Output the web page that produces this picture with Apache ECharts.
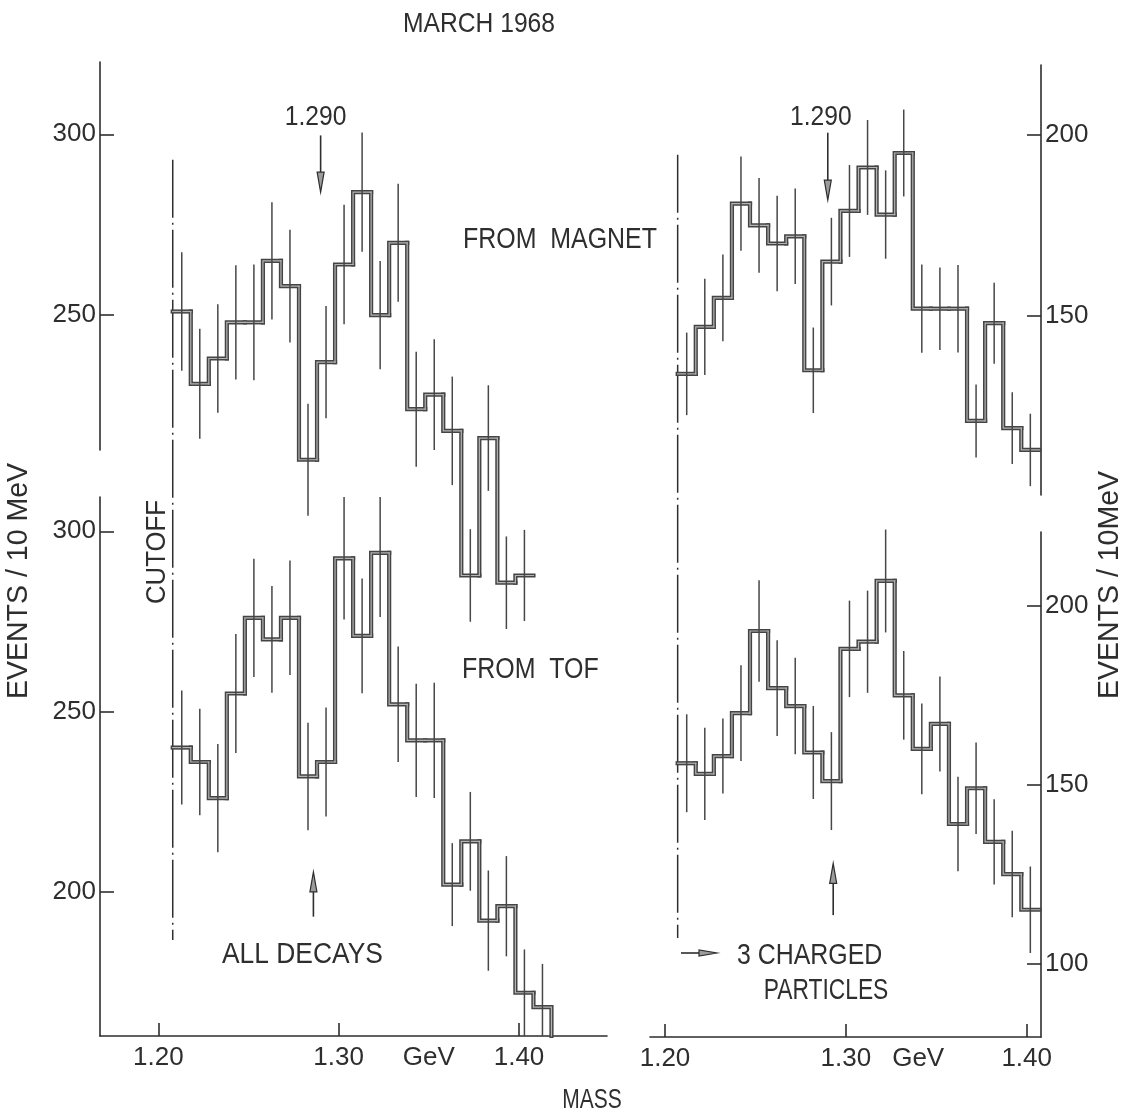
<!DOCTYPE html>
<html><head><meta charset="utf-8">
<script src="https://cdn.jsdelivr.net/npm/echarts@6/dist/echarts.min.js"></script>
<style>html,body{margin:0;padding:0;background:#fff}#c{width:1126px;height:1116px}</style>
</head><body><div id="c"></div>
<script>
// ---------- data ----------
const BIN = 0.01; // GeV, 10 MeV bins
const edgesLeft  = [1.208,1.218,1.228,1.238,1.248,1.258,1.268,1.278,1.288,1.298,1.308,1.318,1.328,1.338,1.348,1.358,1.368,1.378,1.388,1.398,1.408];
const edgesRight = [1.207,1.217,1.227,1.237,1.247,1.257,1.267,1.277,1.287,1.297,1.307,1.317,1.327,1.337,1.347,1.357,1.367,1.377,1.387,1.397];

// ALL DECAYS, from magnet
const magnetAll    = [251,231,238,248,248,265,258,210,237,264,284,250,270,224,228,218,178,216,176,178];
const magnetAllErr = [16.4,15.2,15,15.8,16,16.2,15.6,15.5,15.5,16.5,16.5,15,16.3,15.9,15.3,15,12.8,14.6,12.8,12.6];
// ALL DECAYS, from TOF
const tofAll    = [240,236,226,255,276,270,276,232,236,292.5,271,294,252,242,242,202,214,192,196,172,168];
const tofAllErr = [15.8,14.8,15,16.5,16.4,14.8,15.9,14.9,15.1,17,15.9,17.8,16,15.7,16,11.5,13.7,13.9,13.9,12,12];
// 3 CHARGED PARTICLES, from magnet
const magnet3    = [134,147,155,181,175,170,172,135,165,179,191,178,195,152,152,152,121,148,119,113];
const magnet3Err = [11.4,13.3,12,13,13.1,13.2,13.2,11.8,12.1,12.7,13.1,12.2,12,12.2,11.4,12.1,10.1,11.2,9.9,10];
// 3 CHARGED PARTICLES, from TOF
const tof3    = [156,153,158,170,193,177,172,159,151,188,190,207,175,160,167,139,149,134,125,115];
const tof3Err = [13.7,12.9,10.5,13.4,14.2,13.4,13.5,13,13.7,13.5,14.3,14.4,12.4,12.7,13.3,13.2,12.8,11.9,12.1,12.1];

// axis ticks / labels
const xTickValues = [1.20, 1.30, 1.40];
const xLabelValuesLeft  = [1.20, 1.30, 1.35, 1.40];
const xLabelValuesRight = [1.20, 1.30, 1.34, 1.40];
const xLabelTexts = ['1.20', '1.30', 'GeV', '1.40'];
const yTicksTopLeft = [250, 300];
const yTicksBottomLeft = [200, 250, 300];
const yTicksTopRight = [150, 200];
const yTicksBottomRight = [100, 150, 200];

// annotations (data units)
const resonanceMass = 1.290;
const cutoffMass = [1.208, 1.207];

// ---------- style ----------
const INK = '#2e2e2e';
const FONT = "'Liberation Sans', 'DejaVu Sans', sans-serif";

const chart = echarts.init(document.getElementById('c'), null, {renderer: 'canvas'});

const grids = [
  {left: 100, top: 62,  width: 507, height: 388},  // top-left  (magnet, all decays)
  {left: 100, top: 497, width: 507, height: 539},  // bottom-left (TOF, all decays)
  {left: 650, top: 65,  width: 391, height: 430},  // top-right (magnet, 3 charged)
  {left: 650, top: 532, width: 391, height: 505}   // bottom-right (TOF, 3 charged)
].map(g => Object.assign({outerBoundsMode: 'none', containLabel: false}, g));

function xAx(gi, min, max, show, labelVals) {
  return {
    type: 'value', gridIndex: gi, min: min, max: max, show: show,
    axisLine: {show: true, onZero: false, lineStyle: {color: INK, width: 1.6}},
    axisTick: {show: true, inside: true, length: 13, customValues: xTickValues, lineStyle: {color: INK, width: 1.6}},
    axisLabel: {
      show: true, customValues: labelVals, margin: 9, fontSize: 26, fontFamily: FONT, color: INK,
      formatter: function (v) {
        for (let k = 0; k < labelVals.length; k++) if (Math.abs(labelVals[k] - v) < 1e-6) return xLabelTexts[k];
        return '';
      }
    },
    splitLine: {show: false}
  };
}
function yAx(gi, min, max, pos, ticks) {
  return {
    type: 'value', gridIndex: gi, min: min, max: max, position: pos,
    axisLine: {show: true, onZero: false, lineStyle: {color: INK, width: 1.6}},
    axisTick: {show: true, inside: true, length: 14, customValues: ticks, lineStyle: {color: INK, width: 1.6}},
    axisLabel: {show: true, customValues: ticks, margin: 4, fontSize: 26, fontFamily: FONT, color: INK},
    splitLine: {show: false}
  };
}

function stepLayer(gi, edges, vals, dropTo, stroke, width, z) {
  return {
    type: 'custom', xAxisIndex: gi, yAxisIndex: gi, clip: false, z: z, silent: true,
    data: vals.map((v, i) => [edges[i], v]),
    encode: {x: 0, y: 1},
    renderItem: function (params, api) {
      const i = params.dataIndex;
      const x0 = edges[i], x1 = edges[i] + BIN;
      const pts = [];
      if (i > 0) pts.push(api.coord([x0, vals[i - 1]]));
      pts.push(api.coord([x0, vals[i]]), api.coord([x1, vals[i]]));
      if (dropTo != null && i === vals.length - 1) pts.push(api.coord([x1, dropTo]));
      return {type: 'polyline', shape: {points: pts},
        style: {stroke: stroke, lineWidth: width, fill: null, lineJoin: 'miter', lineCap: 'square'}};
    }
  };
}
function errLayer(gi, edges, vals, errs, clip) {
  return {
    type: 'custom', xAxisIndex: gi, yAxisIndex: gi, clip: clip, z: 5, silent: true,
    data: vals.map((v, i) => [edges[i] + BIN / 2, v]),
    encode: {x: 0, y: 1},
    renderItem: function (params, api) {
      const i = params.dataIndex;
      const xc = edges[i] + BIN / 2;
      const a = api.coord([xc, vals[i] - errs[i]]);
      const b = api.coord([xc, vals[i] + errs[i]]);
      return {type: 'line', shape: {x1: a[0], y1: a[1], x2: b[0], y2: b[1]},
        style: {stroke: '#474747', lineWidth: 1.5}};
    }
  };
}
function histogram(gi, edges, vals, errs, dropTo, clipErr) {
  return [
    stepLayer(gi, edges, vals, dropTo, '#444444', 4.2, 3),
    stepLayer(gi, edges, vals, dropTo, '#b4b4b4', 1.2, 4),
    errLayer(gi, edges, vals, errs, clipErr)
  ];
}

const yRange = [[212.7, 320], [160, 309.5], [100.55, 219.3], [79.4, 220.7]];

chart.setOption({
  animation: false,
  backgroundColor: '#ffffff',
  grid: grids,
  xAxis: [
    xAx(0, 1.16767, 1.44879, false, xLabelValuesLeft),
    xAx(1, 1.16767, 1.44879, true, xLabelValuesLeft),
    xAx(2, 1.1917, 1.4079, false, xLabelValuesRight),
    xAx(3, 1.1917, 1.4079, true, xLabelValuesRight)
  ],
  yAxis: [
    yAx(0, yRange[0][0], yRange[0][1], 'left', yTicksTopLeft),
    yAx(1, yRange[1][0], yRange[1][1], 'left', yTicksBottomLeft),
    yAx(2, yRange[2][0], yRange[2][1], 'right', yTicksTopRight),
    yAx(3, yRange[3][0], yRange[3][1], 'right', yTicksBottomRight)
  ],
  series: [].concat(
    histogram(0, edgesLeft, magnetAll, magnetAllErr, null, false),
    histogram(1, edgesLeft, tofAll, tofAllErr, yRange[1][0], true),
    histogram(2, edgesRight, magnet3, magnet3Err, null, false),
    histogram(3, edgesRight, tof3, tof3Err, null, false)
  )
});

// ---------- annotations via the chart's own scales ----------
const P = (gi, pt) => chart.convertToPixel({gridIndex: gi}, pt);
const g = [];
function line(a, b, extra) {
  g.push(Object.assign({type: 'line', shape: {x1: a[0], y1: a[1], x2: b[0], y2: b[1]},
    style: {stroke: INK, lineWidth: 1.6}, silent: true}, extra || {}));
}
function arrow(tail, tip, headLen, headW) {
  const dx = tip[0] - tail[0], dy = tip[1] - tail[1];
  const L = Math.hypot(dx, dy), ux = dx / L, uy = dy / L, px = -uy, py = ux;
  const base = [tip[0] - ux * headLen, tip[1] - uy * headLen];
  line(tail, base);
  g.push({type: 'polygon', silent: true,
    shape: {points: [tip, [base[0] + px * headW / 2, base[1] + py * headW / 2], [base[0] - px * headW / 2, base[1] - py * headW / 2]]},
    style: {fill: '#9c9c9c', stroke: INK, lineWidth: 1.2}});
}
function text(str, x, y, size, sx, extra) {
  g.push(Object.assign({type: 'text', x: x, y: y, silent: true, scaleX: sx || 1,
    style: {text: str, fill: INK, font: (size || 28) + 'px ' + FONT, align: (extra && extra.align) || 'center', verticalAlign: 'middle'}},
    extra && extra.rotation ? {rotation: extra.rotation} : {}));
}

// cutoff dash-dot lines (span both histograms of each panel)
const cutL0 = P(0, [cutoffMass[0], 293]), cutL1 = P(1, [cutoffMass[0], 186.6]);
const cutR0 = P(2, [cutoffMass[1], 194.5]), cutR1 = P(3, [cutoffMass[1], 107.1]);
line(cutL0, [cutL0[0], cutL1[1]], {style: {stroke: INK, lineWidth: 1.5, lineDash: [58, 5, 2, 5]}});
line(cutR0, [cutR0[0], cutR1[1]], {style: {stroke: INK, lineWidth: 1.5, lineDash: [58, 5, 2, 5]}});

// 1.290 arrows (down, top panels)
arrow(P(0, [resonanceMass, 299.7]), P(0, [resonanceMass, 284]), 20, 7);
arrow(P(2, [resonanceMass, 200.6]), P(2, [resonanceMass, 182]), 20, 7);
// up arrows (bottom panels)
arrow(P(1, [1.286, 193.1]), P(1, [1.286, 205.5]), 20, 7);
arrow(P(3, [1.293, 113.5]), P(3, [1.293, 128]), 20, 7);

const lab1290L = P(0, [resonanceMass, 300]);
const lab1290R = P(2, [resonanceMass, 200]);
text('1.290', lab1290L[0] - 5, 117, 28, 0.88);
text('1.290', lab1290R[0] - 7, 117, 28, 0.88);

text('MARCH 1968', 479, 24, 28, 0.88);
text('FROM  MAGNET', 463, 240, 29, 0.86, {align: 'left'});
text('FROM  TOF', 462, 670, 29, 0.86, {align: 'left'});
text('ALL DECAYS', 222, 955, 30, 0.88, {align: 'left'});
text('3 CHARGED', 737, 956, 30, 0.83, {align: 'left'});
text('PARTICLES', 826, 991, 30, 0.76);
arrow([681, 953], [717, 953], 18, 6);
text('MASS', 592, 1100, 28, 0.75);
text('CUTOFF', 157, 552, 28, 0.92, {rotation: Math.PI / 2});
text('EVENTS / 10 MeV', 19, 581, 30, 0.95, {rotation: Math.PI / 2});
text('EVENTS / 10MeV', 1110, 585, 30, 0.95, {rotation: Math.PI / 2});

chart.setOption({graphic: g});
</script>
</body></html>
